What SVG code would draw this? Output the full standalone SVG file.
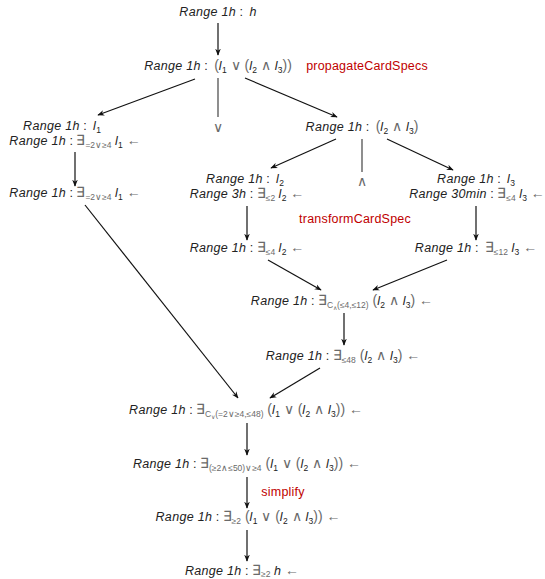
<svg xmlns="http://www.w3.org/2000/svg" width="545" height="579" viewBox="0 0 545 579">
  <defs>
    <marker id="ah" viewBox="0 0 10 10" refX="9" refY="5" markerWidth="7" markerHeight="7" orient="auto" markerUnits="userSpaceOnUse">
      <path d="M0,1 L10,5 L0,9 L3,5 z" fill="#111"/>
    </marker>
    <style>
      text { font-family: "Liberation Sans", Arial, sans-serif; font-size: 12.5px; fill: #222; text-anchor: middle; }
      .i { font-style: italic; letter-spacing: 0.3px; }
      .g { fill: #6a6a6a; }
      .o { fill: #6a6a6a; font-size: 14px; }
      .s { font-size: 8.5px; }
      .r { fill: #c00000; letter-spacing: 0.2px; }
      .e { stroke: #111; stroke-width: 1.2; fill: none; marker-end: url(#ah); }
      .v { stroke: #444; stroke-width: 1.2; fill: none; }
    </style>
  </defs>

  <rect width="545" height="579" fill="#ffffff"/>

  <!-- connectors -->
  <g id="connectors">
    <line class="e" x1="218" y1="23" x2="218" y2="55"/>
    <line class="e" x1="195" y1="79" x2="98" y2="115"/>
    <line class="v" x1="218" y1="78" x2="218" y2="117"/>
    <line class="e" x1="245" y1="78" x2="337" y2="117"/>
    <line class="e" x1="75" y1="152" x2="75" y2="186"/>
    <line class="e" x1="85" y1="205" x2="238" y2="398"/>
    <line class="e" x1="336" y1="139" x2="271" y2="168"/>
    <line class="v" x1="362" y1="139" x2="362" y2="172"/>
    <line class="e" x1="387" y1="139" x2="453" y2="170"/>
    <line class="e" x1="247" y1="206" x2="247" y2="240"/>
    <line class="e" x1="476" y1="206" x2="476" y2="240"/>
    <line class="e" x1="268" y1="260" x2="321" y2="290"/>
    <line class="e" x1="447" y1="260" x2="373" y2="290"/>
    <line class="e" x1="344" y1="313" x2="344" y2="345"/>
    <line class="e" x1="320" y1="368" x2="270" y2="398"/>
    <line class="e" x1="247" y1="423" x2="247" y2="455"/>
    <line class="e" x1="247" y1="477" x2="247" y2="508"/>
    <line class="e" x1="247" y1="530" x2="247" y2="561"/>
  </g>

  <!-- operator marks under the plain branches -->
  <text class="o" x="218" y="132">∨</text>
  <text class="o" x="362" y="186">∧</text>

  <!-- step labels -->
  <text class="r" x="367" y="70">propagateCardSpecs</text>
  <text class="r" x="355" y="223">transformCardSpec</text>
  <text class="r" x="283" y="496">simplify</text>

  <g id="n-root">
    <text x="218" y="16"><tspan class="i">Range 1h</tspan> : <tspan class="i" dx="3">h</tspan></text>
  </g>

  <g id="n-or">
    <text x="218" y="70"><tspan class="i">Range 1h</tspan> : <tspan class="o" dx="3">(</tspan><tspan class="i">l</tspan><tspan class="s" dy="3">1</tspan><tspan class="o" dy="-3"> ∨ (</tspan><tspan class="i">l</tspan><tspan class="s" dy="3">2</tspan><tspan class="o" dy="-3"> ∧ </tspan><tspan class="i">l</tspan><tspan class="s" dy="3">3</tspan><tspan class="o" dy="-3">))</tspan></text>
  </g>

  <g id="n-l1">
    <text x="62" y="130"><tspan class="i">Range 1h</tspan> : <tspan class="i" dx="3">l</tspan><tspan class="s" dy="3">1</tspan></text>
    <text x="75" y="145"><tspan class="i">Range 1h</tspan> : <tspan class="o">∃</tspan><tspan class="s g" dy="3">=2∨≥4</tspan><tspan dy="-3"> </tspan><tspan class="i">l</tspan><tspan class="s" dy="3">1</tspan><tspan class="o" dy="-3"> ←</tspan></text>
  </g>

  <g id="n-l1-spec">
    <text x="75" y="197"><tspan class="i">Range 1h</tspan> : <tspan class="o">∃</tspan><tspan class="s g" dy="3">=2∨≥4</tspan><tspan dy="-3"> </tspan><tspan class="i">l</tspan><tspan class="s" dy="3">1</tspan><tspan class="o" dy="-3"> ←</tspan></text>
  </g>

  <g id="n-and">
    <text x="362" y="131"><tspan class="i">Range 1h</tspan> : <tspan class="o" dx="3">(</tspan><tspan class="i">l</tspan><tspan class="s" dy="3">2</tspan><tspan class="o" dy="-3"> ∧ </tspan><tspan class="i">l</tspan><tspan class="s" dy="3">3</tspan><tspan class="o" dy="-3">)</tspan></text>
  </g>

  <g id="n-l2">
    <text x="245" y="183"><tspan class="i">Range 1h</tspan> : <tspan class="i" dx="3">l</tspan><tspan class="s" dy="2.5">2</tspan></text>
    <text x="247" y="198"><tspan class="i">Range 3h</tspan> : <tspan class="o">∃</tspan><tspan class="s g" dy="3">≤2</tspan><tspan dy="-3"> </tspan><tspan class="i">l</tspan><tspan class="s" dy="3">2</tspan><tspan class="o" dy="-3"> ←</tspan></text>
  </g>

  <g id="n-l3">
    <text x="476" y="183"><tspan class="i">Range 1h</tspan> : <tspan class="i" dx="3">l</tspan><tspan class="s" dy="2.5">3</tspan></text>
    <text x="477" y="198"><tspan class="i">Range 30min</tspan> : <tspan class="o">∃</tspan><tspan class="s g" dy="3">≤4</tspan><tspan dy="-3"> </tspan><tspan class="i">l</tspan><tspan class="s" dy="3">3</tspan><tspan class="o" dy="-3"> ←</tspan></text>
  </g>

  <g id="n-l2-spec">
    <text x="247" y="252"><tspan class="i">Range 1h</tspan> : <tspan class="o">∃</tspan><tspan class="s g" dy="3">≤4</tspan><tspan dy="-3"> </tspan><tspan class="i">l</tspan><tspan class="s" dy="3">2</tspan><tspan class="o" dy="-3"> ←</tspan></text>
  </g>

  <g id="n-l3-spec">
    <text x="476" y="252"><tspan class="i">Range 1h</tspan> : <tspan class="o" dx="3">∃</tspan><tspan class="s g" dy="3">≤12</tspan><tspan dy="-3"> </tspan><tspan class="i">l</tspan><tspan class="s" dy="3">3</tspan><tspan class="o" dy="-3"> ←</tspan></text>
  </g>

  <g id="n-and-combined">
    <text x="342" y="305"><tspan class="i">Range 1h</tspan> : <tspan class="o">∃</tspan><tspan class="s g" dy="3">C</tspan><tspan class="g" font-size="6" dy="1.5">∧</tspan><tspan class="s g" dy="-1.5">(≤4,≤12)</tspan><tspan class="o" dy="-3"> (</tspan><tspan class="i">l</tspan><tspan class="s" dy="3">2</tspan><tspan class="o" dy="-3"> ∧ </tspan><tspan class="i">l</tspan><tspan class="s" dy="3">3</tspan><tspan class="o" dy="-3">) ←</tspan></text>
  </g>

  <g id="n-and-spec">
    <text x="343" y="360"><tspan class="i">Range 1h</tspan> : <tspan class="o">∃</tspan><tspan class="s g" dy="3">≤48</tspan><tspan class="o" dy="-3"> (</tspan><tspan class="i">l</tspan><tspan class="s" dy="3">2</tspan><tspan class="o" dy="-3"> ∧ </tspan><tspan class="i">l</tspan><tspan class="s" dy="3">3</tspan><tspan class="o" dy="-3">) ←</tspan></text>
  </g>

  <g id="n-or-combined">
    <text x="246" y="414"><tspan class="i">Range 1h</tspan> : <tspan class="o">∃</tspan><tspan class="s g" dy="3">C</tspan><tspan class="g" font-size="6" dy="1.5">∨</tspan><tspan class="s g" dy="-1.5">(=2∨≥4,≤48)</tspan><tspan class="o" dy="-3"> (</tspan><tspan class="i">l</tspan><tspan class="s" dy="3">1</tspan><tspan class="o" dy="-3"> ∨ (</tspan><tspan class="i">l</tspan><tspan class="s" dy="3">2</tspan><tspan class="o" dy="-3"> ∧ </tspan><tspan class="i">l</tspan><tspan class="s" dy="3">3</tspan><tspan class="o" dy="-3">)) ←</tspan></text>
  </g>

  <g id="n-or-spec">
    <text x="247" y="468"><tspan class="i">Range 1h</tspan> : <tspan class="o">∃</tspan><tspan class="s g" dy="3">(≥2∧≤50)∨≥4</tspan><tspan class="o" dy="-3"> (</tspan><tspan class="i">l</tspan><tspan class="s" dy="3">1</tspan><tspan class="o" dy="-3"> ∨ (</tspan><tspan class="i">l</tspan><tspan class="s" dy="3">2</tspan><tspan class="o" dy="-3"> ∧ </tspan><tspan class="i">l</tspan><tspan class="s" dy="3">3</tspan><tspan class="o" dy="-3">)) ←</tspan></text>
  </g>

  <g id="n-simplified">
    <text x="248" y="521"><tspan class="i">Range 1h</tspan> : <tspan class="o">∃</tspan><tspan class="s g" dy="3">≥2</tspan><tspan class="o" dy="-3"> (</tspan><tspan class="i">l</tspan><tspan class="s" dy="3">1</tspan><tspan class="o" dy="-3"> ∨ (</tspan><tspan class="i">l</tspan><tspan class="s" dy="3">2</tspan><tspan class="o" dy="-3"> ∧ </tspan><tspan class="i">l</tspan><tspan class="s" dy="3">3</tspan><tspan class="o" dy="-3">)) ←</tspan></text>
  </g>

  <g id="n-result">
    <text x="242" y="575"><tspan class="i">Range 1h</tspan> : <tspan class="o">∃</tspan><tspan class="s g" dy="2">≥2</tspan><tspan dy="-2"> </tspan><tspan class="i">h</tspan><tspan class="o"> ←</tspan></text>
  </g>
</svg>
